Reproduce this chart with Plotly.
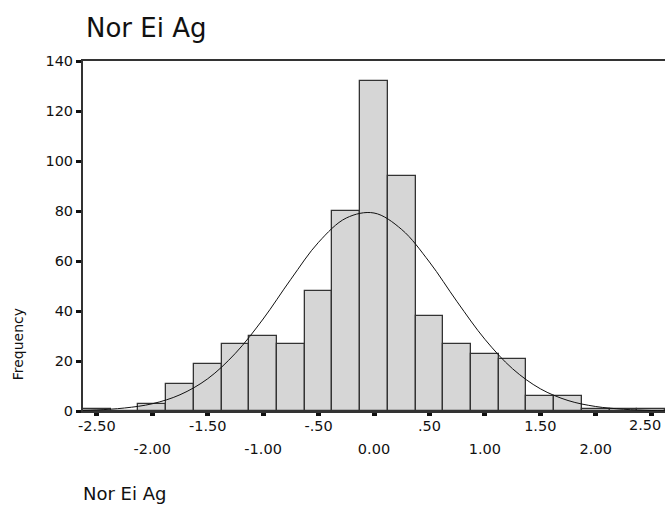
import plotly.graph_objects as go

# Histogram bins (centers) and frequencies
bin_centers = [-2.5, -2.25, -2.0, -1.75, -1.5, -1.25, -1.0, -0.75, -0.5, -0.25,
               0.0, 0.25, 0.5, 0.75, 1.0, 1.25, 1.5, 1.75, 2.0, 2.25, 2.5]
frequencies = [1, 0, 3, 11, 19, 27, 30, 27, 48, 80,
               132, 94, 38, 27, 23, 21, 6, 6, 1, 1, 1]

# Normal curve heights
curve_x = [-2.625, -2.5, -2.25, -2.0, -1.75, -1.5, -1.25, -1.0, -0.75, -0.5, -0.25,
           0.0, 0.25, 0.5, 0.75, 1.0, 1.25, 1.5, 1.75, 2.0, 2.25, 2.5, 2.625]
curve_y = [0.24, 0.42, 1.2, 2.9, 6.5, 12.9, 23.1, 36.8, 52.7, 67.5, 77.2,
           79.2, 72.6, 59.6, 43.7, 28.7, 16.9, 8.9, 4.2, 1.8, 0.7, 0.2, 0.1]

# Tick labels
x_row1_vals = [-2.5, -1.5, -0.5, 0.5, 1.5, 2.5]
x_row1_text = ["-2.50", "-1.50", "-.50", ".50", "1.50", "2.50"]
x_row2_vals = [-2.0, -1.0, 0.0, 1.0, 2.0]
x_row2_text = ["-2.00", "-1.00", "0.00", "1.00", "2.00"]
y_tick_vals = [0, 20, 40, 60, 80, 100, 120, 140]

FONT = "DejaVu Sans"
TICK_SIZE = 14.5

fig = go.Figure()
fig.add_trace(go.Bar(
    x=bin_centers, y=frequencies, width=0.25,
    marker=dict(color="#d6d6d6", line=dict(color="#333333", width=1.3)),
    showlegend=False, hoverinfo="skip"))
fig.add_trace(go.Scatter(
    x=curve_x, y=curve_y, mode="lines", line=dict(color="#111111", width=1, shape="spline"),
    showlegend=False, hoverinfo="skip"))
# invisible trace for second label row axis
fig.add_trace(go.Scatter(x=[0], y=[0], xaxis="x2", mode="markers",
                         marker=dict(opacity=0), showlegend=False, hoverinfo="skip"))

# the last label sits at the right edge; it is drawn as an annotation nudged inward
edge_val = x_row1_vals[-1]
edge_text = x_row1_text[-1]
all_vals = sorted(x_row1_vals + x_row2_vals)
all_text = [x_row1_text[x_row1_vals.index(v)] if (v in x_row1_vals and v != edge_val) else ""
            for v in all_vals]

fig.update_layout(
    width=665, height=511,
    margin=dict(l=83, r=0, t=61, b=100),
    paper_bgcolor="white", plot_bgcolor="white",
    bargap=0,
    font=dict(family=FONT, color="#111111"),
    title=dict(text="Nor Ei Ag", x=86/665, xref="container", xanchor="left",
               y=1 - 28/511, yref="container", yanchor="middle", automargin=False,
               font=dict(family=FONT, size=26, color="#111111")),
    xaxis=dict(range=[-2.625, 2.625], tickvals=all_vals, ticktext=all_text,
               ticks="outside", ticklen=3, tickwidth=5, tickcolor="#111111",
               showline=True, linecolor="#333333", linewidth=2, mirror=True,
               showgrid=False, zeroline=False, tickfont=dict(size=TICK_SIZE),
               ticklabelstandoff=-2, automargin=False),
    xaxis2=dict(range=[-2.625, 2.625], overlaying="x", anchor="y", side="bottom",
                tickvals=x_row2_vals, ticktext=x_row2_text, ticks="",
                showline=False, showgrid=False, zeroline=False, tickfont=dict(size=TICK_SIZE),
                ticklabelstandoff=27, automargin=False),
    yaxis=dict(range=[0, 140], tickvals=y_tick_vals,
               ticks="outside", ticklen=5, tickwidth=3, tickcolor="#111111",
               showline=True, linecolor="#333333", linewidth=2,
               showgrid=False, zeroline=False, tickfont=dict(size=14.5),
               automargin=False),
    annotations=[
        dict(text=edge_text, xref="x", yref="paper", x=edge_val, y=-0.041,
             xanchor="right", yanchor="middle", xshift=12, showarrow=False,
             font=dict(family=FONT, size=TICK_SIZE, color="#111111")),
        dict(text="Frequency", textangle=-90, xref="paper", yref="paper",
             x=-0.112, y=0.19, xanchor="center", yanchor="middle", showarrow=False,
             font=dict(family=FONT, size=14, color="#111111")),
        dict(text="Nor Ei Ag", xref="paper", yref="paper", x=-0.004, y=-0.235,
             xanchor="left", yanchor="middle", showarrow=False,
             font=dict(family=FONT, size=18, color="#111111")),
    ],
)

fig.write_html("out.html", config={"displayModeBar": False},
               post_script="document.body.style.margin='0';")
